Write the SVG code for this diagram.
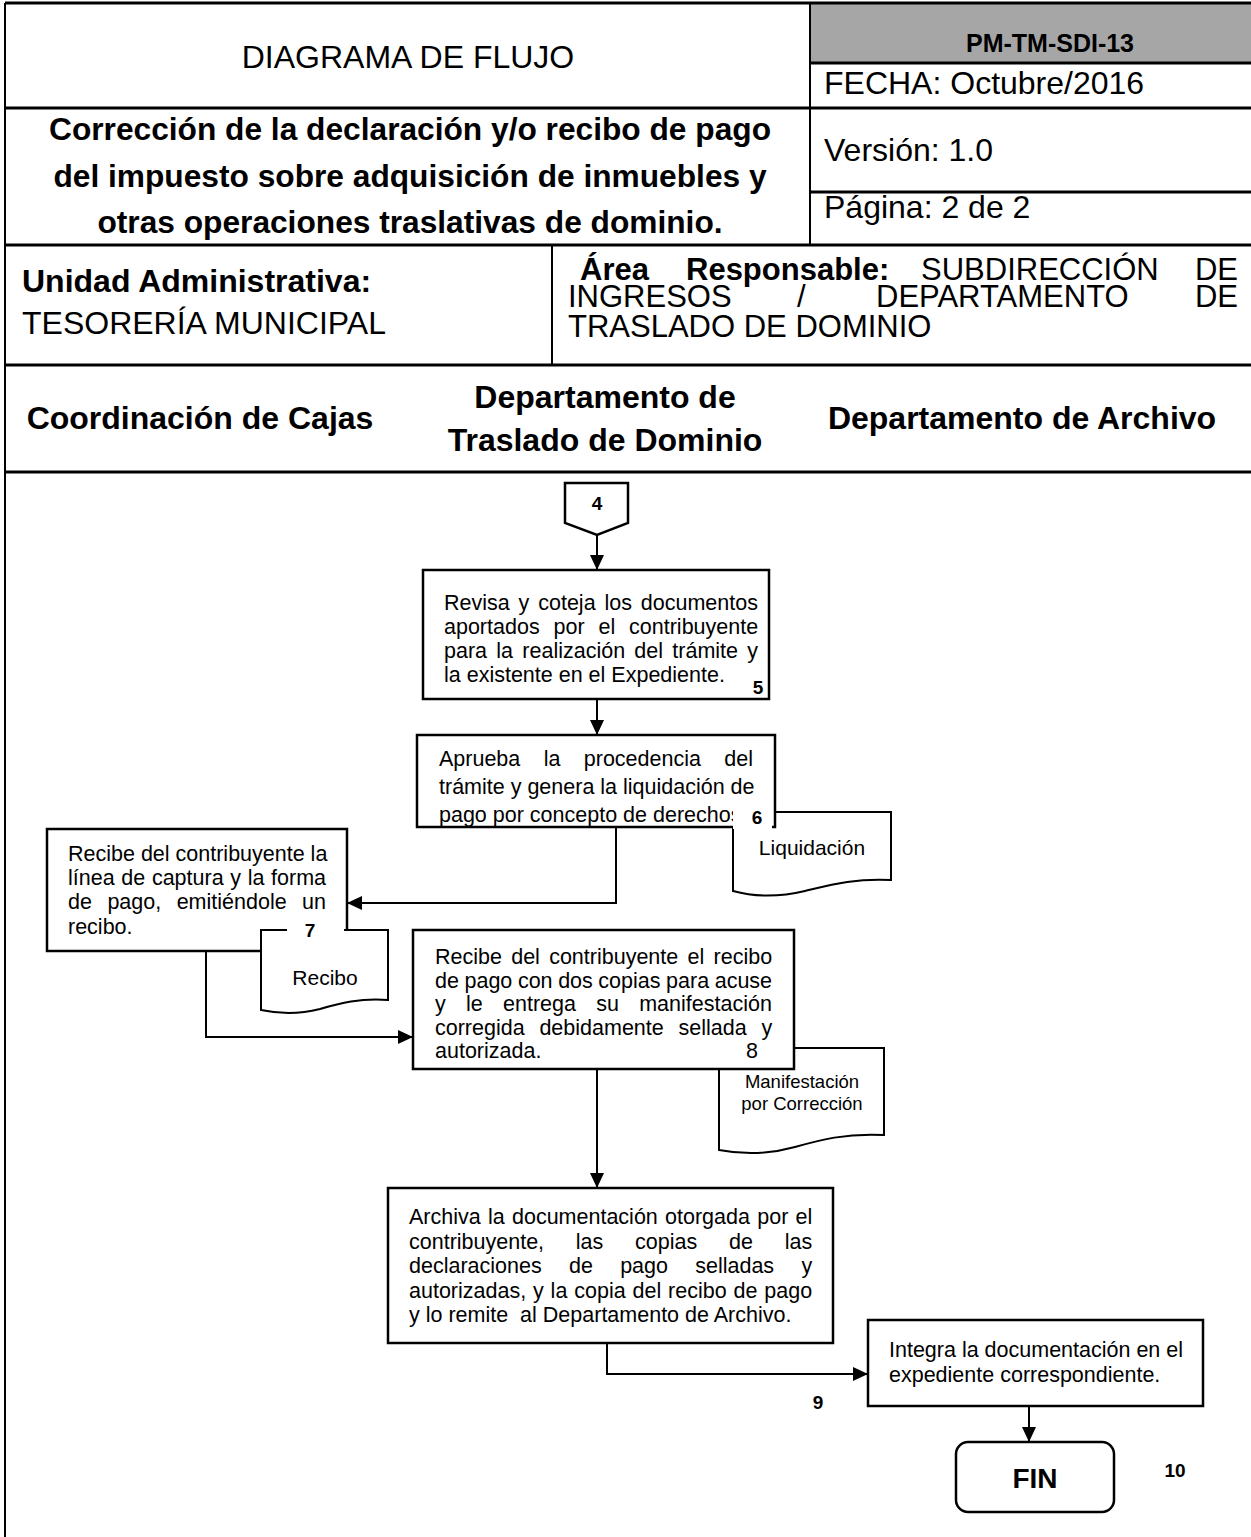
<svg xmlns="http://www.w3.org/2000/svg" width="1251" height="1537" viewBox="0 0 1251 1537">
<style>
text{font-family:"Liberation Sans",Arial,sans-serif;fill:#000}
.hl{stroke:#000;stroke-width:3;fill:none}
.vl{stroke:#000;stroke-width:2;fill:none}
.h{font-size:31px}
.h2{font-size:32px}
.hb{font-size:31.7px;font-weight:bold}
.ub{font-size:32px;font-weight:bold}
.lane{font-size:32px;font-weight:bold}
.box{fill:#fff;stroke:#000;stroke-width:2.5}
.doc{fill:#fff;stroke:#000;stroke-width:2}
.t{font-size:21.5px}
.dt{font-size:21px}
.sm{font-size:18.5px}
.num{font-size:19px;font-weight:bold}
.cn{fill:none;stroke:#000;stroke-width:2}
</style>
<defs>
<marker id="ah" markerUnits="userSpaceOnUse" markerWidth="15" markerHeight="14" refX="15" refY="7" orient="auto">
<path d="M0,0 L15,7 L0,14 Z" fill="#000"/>
</marker>
</defs>
<rect x="0" y="0" width="1251" height="1537" fill="#fff"/>
<g id="header">
<rect x="810" y="3" width="441" height="60" fill="#a6a6a6"/>
<line class="hl" x1="5" y1="3" x2="1251" y2="3"/>
<line class="vl" x1="5" y1="3" x2="5" y2="1537"/>
<line class="vl" x1="810" y1="3" x2="810" y2="245"/>
<line class="hl" x1="810" y1="63" x2="1251" y2="63"/>
<line class="hl" x1="5" y1="108" x2="1251" y2="108"/>
<line class="hl" x1="810" y1="192" x2="1251" y2="192"/>
<line class="hl" x1="5" y1="245" x2="1251" y2="245"/>
<line class="vl" x1="552" y1="245" x2="552" y2="365"/>
<line class="hl" x1="5" y1="365" x2="1251" y2="365"/>
<line class="hl" x1="5" y1="472" x2="1251" y2="472"/>
<text class="h2" x="408" y="68" text-anchor="middle">DIAGRAMA DE FLUJO</text>
<text x="1050" y="52" text-anchor="middle" style="font-size:25px;font-weight:bold">PM-TM-SDI-13</text>
<text class="h2" x="824" y="94">FECHA: Octubre/2016</text>
<text class="hb" x="410" y="140" text-anchor="middle">Corrección de la declaración y/o recibo de pago</text>
<text class="hb" x="410" y="186.5" text-anchor="middle">del impuesto sobre adquisición de inmuebles y</text>
<text class="hb" x="410" y="233" text-anchor="middle">otras operaciones traslativas de dominio.</text>
<text class="h2" x="824" y="161">Versión: 1.0</text>
<text class="h2" x="824" y="218">Página: 2 de 2</text>
<text class="ub" x="22" y="292">Unidad Administrativa:</text>
<text class="h2" x="22" y="334">TESORERÍA MUNICIPAL</text>
<text class="hb" x="580" y="280" style="font-size:31px">Área</text>
<text class="hb" x="686" y="280" style="font-size:31px">Responsable:</text>
<text class="h" x="921" y="280">SUBDIRECCIÓN</text>
<text class="h" x="1238" y="280" text-anchor="end">DE</text>
<text class="h" x="568" y="307">INGRESOS</text>
<text class="h" x="797" y="307">/</text>
<text class="h" x="876" y="307">DEPARTAMENTO</text>
<text class="h" x="1238" y="307" text-anchor="end">DE</text>
<text class="h" x="568" y="337">TRASLADO DE DOMINIO</text>
<text class="lane" x="200" y="429" text-anchor="middle">Coordinación de Cajas</text>
<text class="lane" x="605" y="408" text-anchor="middle">Departamento de</text>
<text class="lane" x="605" y="451" text-anchor="middle">Traslado de Dominio</text>
<text class="lane" x="1022" y="429" text-anchor="middle">Departamento de Archivo</text>
</g>
<g id="connectors">
<path class="cn" d="M597,535 V570" marker-end="url(#ah)"/>
<path class="cn" d="M597,699 V735" marker-end="url(#ah)"/>
<path class="cn" d="M616,827 V903 H347" marker-end="url(#ah)"/>
<path class="cn" d="M206,951 V1037 H413" marker-end="url(#ah)"/>
<path class="cn" d="M597,1069 V1188" marker-end="url(#ah)"/>
<path class="cn" d="M607,1343 V1374 H868" marker-end="url(#ah)"/>
<path class="cn" d="M1029,1406 V1442" marker-end="url(#ah)"/>
</g>
<g id="n4">
<path class="box" d="M565,483 H628 V523 L597,535 L565,523 Z"/>
<text class="num" x="597" y="510" text-anchor="middle">4</text>
</g>
<g id="n5">
<rect class="box" x="423" y="570" width="346" height="129"/>
<text class="t" x="444" y="610" word-spacing="2.9">Revisa y coteja los documentos</text>
<text class="t" x="444" y="634" word-spacing="7.9">aportados por el contribuyente</text>
<text class="t" x="444" y="658" word-spacing="3.3">para la realización del trámite y</text>
<text class="t" x="444" y="682">la existente en el Expediente.</text>
<text class="num" x="758" y="694" text-anchor="middle">5</text>
</g>
<g id="n6">
<path class="doc" d="M733,812 H891 V880 C855,878 830,885 805,891 C780,897 755,897 733,891 Z"/>
<text class="dt" x="812" y="855" text-anchor="middle">Liquidación</text>
<rect class="box" x="417" y="735" width="358" height="92"/>
<text class="t" x="439" y="766" word-spacing="17.4">Aprueba la procedencia del</text>
<text class="t" x="439" y="794">trámite y genera la liquidación de</text>
<text class="t" x="439" y="822">pago por concepto de derechos</text>
<rect x="733" y="808" width="39" height="21" fill="#fff"/>
<text class="num" x="757" y="824" text-anchor="middle">6</text>
</g>
<g id="n7">
<rect class="box" x="47" y="829" width="300" height="122"/>
<text class="t" x="68" y="861">Recibe del contribuyente la</text>
<text class="t" x="68" y="885" word-spacing="0.7">línea de captura y la forma</text>
<text class="t" x="68" y="909" word-spacing="9.5">de pago, emitiéndole un</text>
<text class="t" x="68" y="934">recibo.</text>
<path class="doc" d="M261,930 H388 V1000 C360,998 340,1003 320,1009 C300,1014 280,1014 261,1010 Z"/>
<text class="dt" x="325" y="985" text-anchor="middle">Recibo</text>
<rect x="287" y="922" width="57" height="26" fill="#fff"/>
<text class="num" x="310" y="937" text-anchor="middle">7</text>
</g>
<g id="n8">
<path class="doc" d="M719,1048 H884 V1135 C845,1133 820,1140 795,1147 C770,1154 745,1155 719,1150 Z"/>
<text class="sm" x="802" y="1088" text-anchor="middle">Manifestación</text>
<text class="sm" x="802" y="1110" text-anchor="middle">por Corrección</text>
<rect class="box" x="413" y="930" width="381" height="139"/>
<text class="t" x="435" y="964" word-spacing="3.3">Recibe del contribuyente el recibo</text>
<text class="t" x="435" y="987.5" word-spacing="-0.4">de pago con dos copias para acuse</text>
<text class="t" x="435" y="1011" word-spacing="14.3">y le entrega su manifestación</text>
<text class="t" x="435" y="1034.5" word-spacing="8.8">corregida debidamente sellada y</text>
<text class="t" x="435" y="1058">autorizada.</text>
<text class="t" x="752" y="1058" text-anchor="middle">8</text>
</g>
<g id="n9">
<rect class="box" x="388" y="1188" width="445" height="155"/>
<text class="t" x="409" y="1224" word-spacing="1.3">Archiva la documentación otorgada por el</text>
<text class="t" x="409" y="1248.5" word-spacing="25.8">contribuyente, las copias de las</text>
<text class="t" x="409" y="1273" word-spacing="21.3">declaraciones de pago selladas y</text>
<text class="t" x="409" y="1297.5" word-spacing="0.9">autorizadas, y la copia del recibo de pago</text>
<text class="t" x="409" y="1322" xml:space="preserve">y lo remite  al Departamento de Archivo.</text>
<text class="num" x="818" y="1409" text-anchor="middle">9</text>
</g>
<g id="n10">
<rect class="box" x="868" y="1320" width="335" height="86"/>
<text class="t" x="889" y="1357">Integra la documentación en el</text>
<text class="t" x="889" y="1382">expediente correspondiente.</text>
</g>
<g id="fin">
<rect class="box" x="956" y="1442" width="158" height="70" rx="12"/>
<text x="1035" y="1488" text-anchor="middle" style="font-size:28px;font-weight:bold">FIN</text>
<text class="num" x="1175" y="1477" text-anchor="middle">10</text>
</g>
</svg>
